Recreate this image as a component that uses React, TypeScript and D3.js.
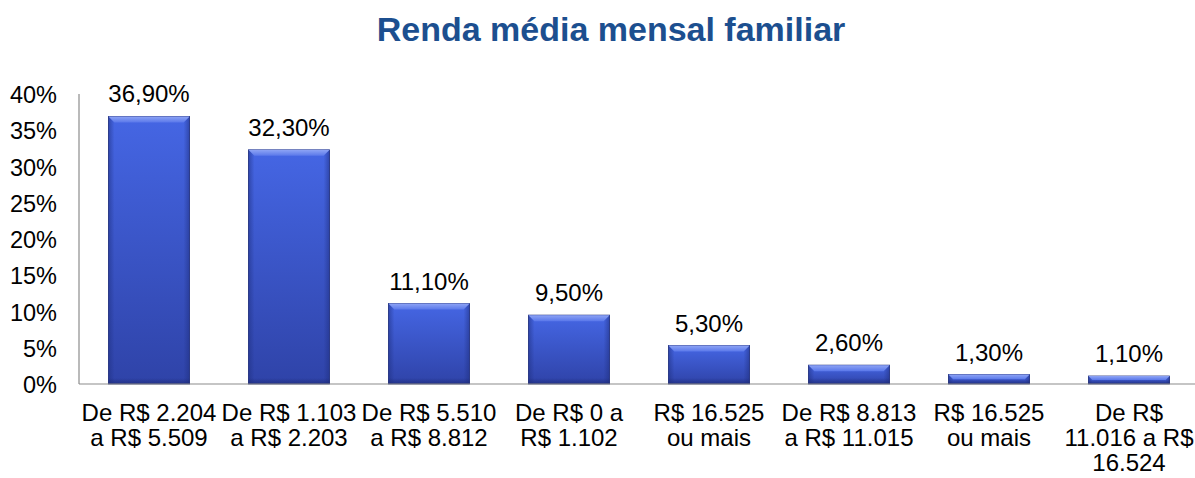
import React from "react";
import * as d3 from "d3";

const categories = [
  "De R$ 2.204 a R$ 5.509",
  "De R$ 1.103 a R$ 2.203",
  "De R$ 5.510 a R$ 8.812",
  "De R$ 0 a R$ 1.102",
  "R$ 16.525 ou mais",
  "De R$ 8.813 a R$ 11.015",
  "R$ 16.525 ou mais ",
  "De R$ 11.016 a R$ 16.524",
];
const categoryLines = [
  ["De R$ 2.204", "a R$ 5.509"],
  ["De R$ 1.103", "a R$ 2.203"],
  ["De R$ 5.510", "a R$ 8.812"],
  ["De R$ 0 a", "R$ 1.102"],
  ["R$ 16.525", "ou mais"],
  ["De R$ 8.813", "a R$ 11.015"],
  ["R$ 16.525", "ou mais"],
  ["De R$", "11.016 a R$", "16.524"],
];
const values = [36.9, 32.3, 11.1, 9.5, 5.3, 2.6, 1.3, 1.1];
const yTicks = [0, 5, 10, 15, 20, 25, 30, 35, 40];
const title = "Renda média mensal familiar";

const W = 1195;
const H = 478;
const left = 79;
const right = 1199;
const top = 94;
const bottom = 384;
const font = "Arial, 'Liberation Sans', sans-serif";

export default function App() {
  const x = d3.scaleBand<string>().domain(categories).range([left, right]).paddingInner(0.42).paddingOuter(0.21);
  const y = d3.scaleLinear().domain([0, 40]).range([bottom, top]);
  const fmt = (v: number) => v.toFixed(2).replace(".", ",") + "%";
  const bw = x.bandwidth();
  return (
    <svg width={W} height={H} style={{ position: "absolute", left: 0, top: 0 }}>
      <defs>
        <linearGradient id="barG" x1="0" y1="0" x2="0" y2="1">
          <stop offset="0%" stopColor="#4566e4" />
          <stop offset="100%" stopColor="#2f43a8" />
        </linearGradient>
        <linearGradient id="sideG" x1="0" y1="0" x2="1" y2="0">
          <stop offset="0%" stopColor="#1f2f80" stopOpacity={0.55} />
          <stop offset="100%" stopColor="#1f2f80" stopOpacity={0} />
        </linearGradient>
        <linearGradient id="sideGR" x1="1" y1="0" x2="0" y2="0">
          <stop offset="0%" stopColor="#1f2f80" stopOpacity={0.55} />
          <stop offset="100%" stopColor="#1f2f80" stopOpacity={0} />
        </linearGradient>
        <linearGradient id="botG" x1="0" y1="1" x2="0" y2="0">
          <stop offset="0%" stopColor="#1a2670" stopOpacity={0.6} />
          <stop offset="100%" stopColor="#1a2670" stopOpacity={0} />
        </linearGradient>
        <linearGradient id="topG" x1="0" y1="0" x2="0" y2="1">
          <stop offset="0%" stopColor="#8ea4f5" />
          <stop offset="100%" stopColor="#5a78ea" />
        </linearGradient>
      </defs>
      <rect width={W} height={H} fill="#fff" />
      <text x={611} y={41} textAnchor="middle" fontFamily={font} fontWeight="bold" fontSize={34} fill="#1c4f8f">
        {title}
      </text>
      {yTicks.map((t) => (
        <text key={t} x={57} y={y(t) + 9} textAnchor="end" fontFamily={font} fontSize={23.5} fill="#000">
          {t}%
        </text>
      ))}
      <line x1={left} x2={left} y1={top} y2={bottom} stroke="#8c8c8c" strokeWidth={1.2} />
      {categories.map((c, i) => {
        const x0 = x(c)!;
        const y0 = y(values[i]);
        const h = bottom - y0;
        const bev = Math.min(6, h / 2);
        return (
          <g key={c}>
            <rect x={x0} y={y0} width={bw} height={h} fill="url(#barG)" stroke="#1e2c78" strokeWidth={0.8} />
            <rect x={x0} y={y0} width={bev} height={h} fill="url(#sideG)" />
            <rect x={x0 + bw - bev} y={y0} width={bev} height={h} fill="url(#sideGR)" />
            <rect x={x0} y={bottom - bev} width={bw} height={bev} fill="url(#botG)" />
            <polygon
              points={`${x0},${y0} ${x0 + bw},${y0} ${x0 + bw - bev},${y0 + bev} ${x0 + bev},${y0 + bev}`}
              fill="url(#topG)"
            />
            <text x={x0 + bw / 2} y={y0 - 14} textAnchor="middle" fontFamily={font} fontSize={24} fill="#000">
              {fmt(values[i])}
            </text>
            <text textAnchor="middle" fontFamily={font} fontSize={24} fill="#000">
              {categoryLines[i].map((l, j) => (
                <tspan key={j} x={x0 + bw / 2} y={421 + j * 25}>
                  {l}
                </tspan>
              ))}
            </text>
          </g>
        );
      })}
      <line x1={left} x2={W} y1={bottom} y2={bottom} stroke="#8c8c8c" strokeWidth={1.2} />
    </svg>
  );
}
